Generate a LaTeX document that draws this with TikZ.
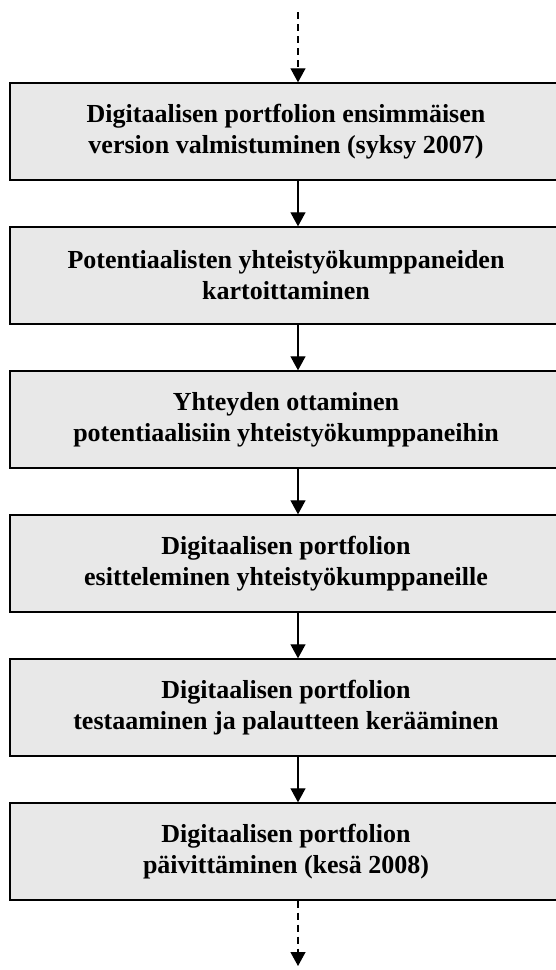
\documentclass[tikz,border=0pt]{standalone}
\usepackage{fontspec}
\setmainfont{Liberation Serif}
\usetikzlibrary{arrows.meta}
\definecolor{boxgray}{RGB}{232,232,232}
\begin{document}
\begin{tikzpicture}[x=1pt,y=-1pt,
  stepbox/.style={draw=black, line width=1.4pt, fill=boxgray, minimum width=552pt,
    minimum height=97pt, inner sep=0pt, align=center,
    font=\fontsize{26}{31}\selectfont\bfseries},
  conn/.style={line width=1.2pt, -{Triangle[width=15pt,length=14pt]}},
  dconn/.style={conn, dash pattern=on 7pt off 5pt}]
\useasboundingbox (0,0) rectangle (556,970);
\coordinate (ax) at (298,0);
\coordinate (top) at (298,12);
\coordinate (bot) at (298,966);
\node[stepbox] (b1) at (286,131.5) {Digitaalisen portfolion ensimmäisen\\version valmistuminen (syksy 2007)};
\node[stepbox] (b2) at (286,275.5) {Potentiaalisten yhteistyökumppaneiden\\kartoittaminen};
\node[stepbox] (b3) at (286,419.5) {Yhteyden ottaminen\\potentiaalisiin yhteistyökumppaneihin};
\node[stepbox] (b4) at (286,563.5) {Digitaalisen portfolion\\esitteleminen yhteistyökumppaneille};
\node[stepbox] (b5) at (286,707.5) {Digitaalisen portfolion\\testaaminen ja palautteen kerääminen};
\node[stepbox] (b6) at (286,851.5) {Digitaalisen portfolion\\päivittäminen (kesä 2008)};
\draw[dconn] (top) -- (b1.north -| ax);
\draw[conn] (b1.south -| ax) -- (b2.north -| ax);
\draw[conn] (b2.south -| ax) -- (b3.north -| ax);
\draw[conn] (b3.south -| ax) -- (b4.north -| ax);
\draw[conn] (b4.south -| ax) -- (b5.north -| ax);
\draw[conn] (b5.south -| ax) -- (b6.north -| ax);
\draw[dconn] (b6.south -| ax) -- (bot);
\end{tikzpicture}
\end{document}
